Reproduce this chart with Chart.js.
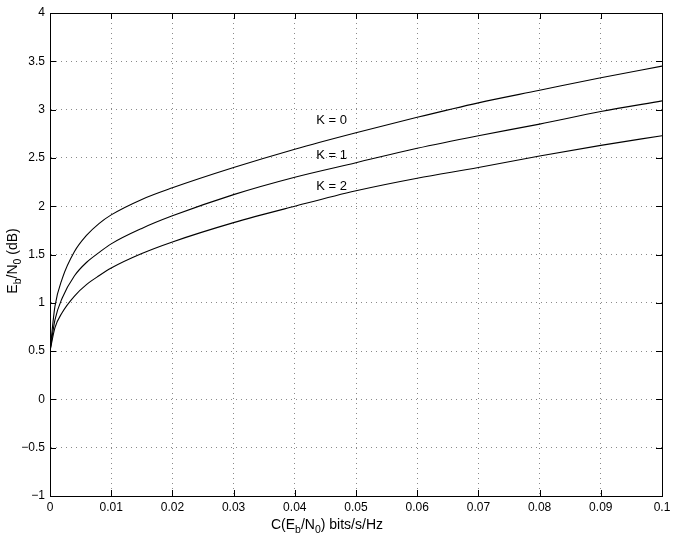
<!DOCTYPE html>
<html>
<head>
<meta charset="utf-8">
<script src="https://cdn.jsdelivr.net/npm/chart.js@4"></script>
<style>
html,body{margin:0;padding:0;background:#fff;}
#wrap{width:678px;height:540px;position:relative;}
</style>
</head>
<body>
<div id="wrap"><canvas id="c" width="678" height="540"></canvas></div>
<script>
// Data
const xValues = [0, 0.0008, 0.002, 0.004, 0.006, 0.008, 0.01, 0.015, 0.02, 0.03, 0.04, 0.05, 0.06, 0.07, 0.08, 0.09, 0.1];
const k0 = [0.5, 0.96, 1.25, 1.53, 1.70, 1.82, 1.91, 2.07, 2.19, 2.40, 2.59, 2.76, 2.92, 3.07, 3.20, 3.33, 3.45];
const k1 = [0.5, 0.82, 1.05, 1.28, 1.42, 1.52, 1.61, 1.77, 1.90, 2.12, 2.30, 2.45, 2.60, 2.73, 2.85, 2.98, 3.09];
const k2 = [0.5, 0.74, 0.90, 1.07, 1.19, 1.28, 1.36, 1.51, 1.63, 1.83, 2.00, 2.16, 2.29, 2.40, 2.52, 2.63, 2.73];
const seriesNames = ['K = 0', 'K = 1', 'K = 2'];
const labelX = [0.046, 0.046, 0.046];
const labelY = [2.885, 2.53, 2.20];
const xTicksMin = 0, xTicksMax = 0.1, xStep = 0.01;
const yTicksMin = -1, yTicksMax = 4, yStep = 0.5;

const FONT = '"Liberation Sans", Arial, Helvetica, sans-serif';
const TITLE_SIZE = 14;

function pts(ys){ return xValues.map((x,i)=>({x:x, y:ys[i]})); }

function measureParts(ctx, parts, size){
  let w = 0;
  for (const [t, sub] of parts){
    ctx.font = (sub ? size*0.75 : size) + 'px ' + FONT;
    w += ctx.measureText(t).width;
  }
  return w;
}
function renderParts(ctx, parts, size, x, y){
  let cx = x;
  for (const [t, sub] of parts){
    ctx.font = (sub ? size*0.75 : size) + 'px ' + FONT;
    ctx.fillText(t, cx, sub ? y + size*0.3 : y);
    cx += ctx.measureText(t).width;
  }
}

const decor = {
  id: 'decor',
  afterDraw(chart){
    const ctx = chart.ctx, a = chart.chartArea;
    const xs = chart.scales.x, ys = chart.scales.y;
    ctx.save();
    ctx.setLineDash([]);
    ctx.strokeStyle = '#000'; ctx.lineWidth = 1;
    ctx.strokeRect(Math.round(a.left)+0.5, Math.round(a.top)+0.5, Math.round(a.right-a.left), Math.round(a.bottom-a.top));
    ctx.beginPath();
    const tl = 6;
    xs.ticks.forEach(t=>{
      const px = Math.round(xs.getPixelForValue(t.value))+0.5;
      ctx.moveTo(px, a.bottom); ctx.lineTo(px, a.bottom - tl);
      ctx.moveTo(px, a.top); ctx.lineTo(px, a.top + tl);
    });
    ys.ticks.forEach(t=>{
      const py = Math.round(ys.getPixelForValue(t.value))+0.5;
      ctx.moveTo(a.left, py); ctx.lineTo(a.left + tl, py);
      ctx.moveTo(a.right, py); ctx.lineTo(a.right - tl, py);
    });
    ctx.stroke();
    ctx.fillStyle = '#000';
    ctx.font = '13px ' + FONT;
    ctx.textAlign = 'center'; ctx.textBaseline = 'middle';
    seriesNames.forEach((n,i)=>{
      ctx.fillText(n, xs.getPixelForValue(labelX[i]), ys.getPixelForValue(labelY[i]));
    });
    ctx.textAlign = 'left'; ctx.textBaseline = 'alphabetic';
    const xt = [['C(E',false],['b',true],['/N',false],['0',true],[') bits/s/Hz',false]];
    const w1 = measureParts(ctx, xt, TITLE_SIZE);
    renderParts(ctx, xt, TITLE_SIZE, 327 - w1/2, 529);
    const yt = [['E',false],['b',true],['/N',false],['0',true],[' (dB)',false]];
    const w2 = measureParts(ctx, yt, TITLE_SIZE);
    ctx.translate(17, 261);
    ctx.rotate(-Math.PI/2);
    renderParts(ctx, yt, TITLE_SIZE, -w2/2, 0);
    ctx.restore();
  }
};

const lineStyle = {borderColor:'#000', borderWidth:1.1, pointRadius:0, showLine:true, fill:false, cubicInterpolationMode:'monotone'};

new Chart(document.getElementById('c'), {
  type: 'scatter',
  data: {
    datasets: [
      Object.assign({label: seriesNames[0], data: pts(k0)}, lineStyle),
      Object.assign({label: seriesNames[1], data: pts(k1)}, lineStyle),
      Object.assign({label: seriesNames[2], data: pts(k2)}, lineStyle)
    ]
  },
  options: {
    responsive: false,
    animation: false,
    events: [],
    layout: {padding: {left: 0, right: 16, top: 13, bottom: 0}},
    plugins: {legend:{display:false}, tooltip:{enabled:false}},
    scales: {
      x: {
        type: 'linear', min: xTicksMin, max: xTicksMax,
        ticks: {stepSize: xStep, color:'#000', font:{family:FONT, size:12}, padding:4, maxRotation:0,
          callback: v => Number(v.toFixed(3)).toString().replace('-', '\u2212')},
        grid: {color:'#8a8a8a', lineWidth:1, drawTicks:false, tickLength:0},
        border: {display:true, color:'#000', dash:[1,4], width:1},
        afterFit(s){ s.height = 44; }
      },
      y: {
        type: 'linear', min: yTicksMin, max: yTicksMax,
        ticks: {stepSize: yStep, color:'#000', font:{family:FONT, size:12}, padding:5,
          callback: v => Number(v.toFixed(2)).toString().replace('-', '\u2212')},
        grid: {color:'#8a8a8a', lineWidth:1, drawTicks:false, tickLength:0},
        border: {display:true, color:'#000', dash:[1,4], width:1},
        afterFit(s){ s.width = 50; }
      }
    }
  },
  plugins: [decor]
});
</script>
</body>
</html>
